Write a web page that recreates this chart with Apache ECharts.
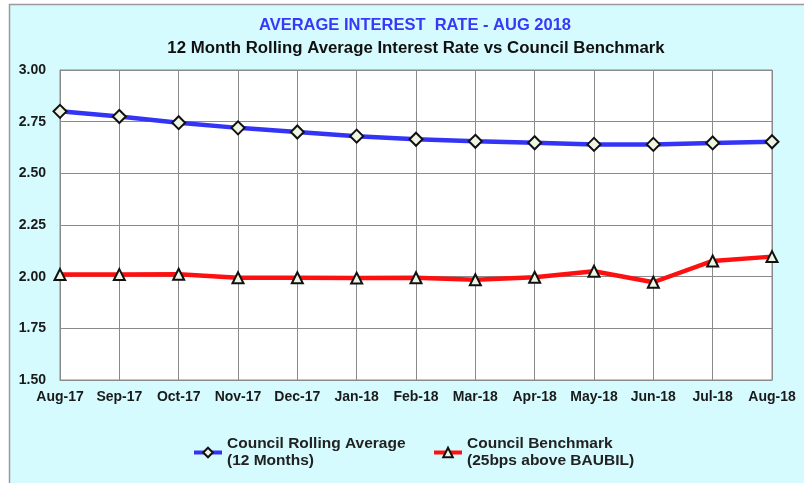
<!DOCTYPE html>
<html>
<head>
<meta charset="utf-8">
<script src="https://cdn.jsdelivr.net/npm/echarts@6/dist/echarts.min.js"></script>
<style>html,body{margin:0;padding:0;background:#fff}#c{width:804px;height:483px}</style>
</head>
<body>
<div id="c"></div>
<script>
var categories = ['Aug-17','Sep-17','Oct-17','Nov-17','Dec-17','Jan-18','Feb-18','Mar-18','Apr-18','May-18','Jun-18','Jul-18','Aug-18'];
var rollingAverage = [2.80, 2.775, 2.745, 2.72, 2.70, 2.68, 2.665, 2.655, 2.648, 2.64, 2.64, 2.647, 2.653];
var benchmark = [2.01, 2.01, 2.012, 1.995, 1.995, 1.993, 1.995, 1.985, 1.997, 2.026, 1.973, 2.076, 2.097];
var yTicks = {min: 1.5, max: 3.0, interval: 0.25};
var titleText = 'AVERAGE INTEREST  RATE - AUG 2018';
var subtitleText = '12 Month Rolling Average Interest Rate vs Council Benchmark';
var seriesNames = ['Council Rolling Average', 'Council Benchmark'];
var seriesSubNames = ['(12 Months)', '(25bps above BAUBIL)'];

var FONT = '"Liberation Sans", Arial, sans-serif';
var chart = echarts.init(document.getElementById('c'), null, {renderer: 'canvas'});
var legendText = {
  fontFamily: FONT, fontWeight: 'bold', fontSize: 15.5, color: '#222',
  lineHeight: 17, padding: [17, 0, 0, 0]
};
chart.setOption({
  backgroundColor: '#ffffff',
  animation: false,
  graphic: [{
    type: 'rect', z: -10, silent: true,
    shape: {x: 9.5, y: 4.5, width: 820, height: 500},
    style: {fill: '#d5fbfe', stroke: '#9a9a9a', lineWidth: 1.5}
  }],
  title: [{
    text: titleText, left: 410, textAlign: 'center', top: 12,
    textStyle: {fontFamily: FONT, fontWeight: 'bold', fontSize: 16.5, color: '#3838f8'}
  }, {
    text: subtitleText, left: 411, textAlign: 'center', top: 35,
    textStyle: {fontFamily: FONT, fontWeight: 'bold', fontSize: 16.8, color: '#111'}
  }],
  grid: {
    left: 60, right: 32, top: 70, bottom: 103,
    show: true, backgroundColor: '#ffffff', borderColor: '#8a8a8a', borderWidth: 1
  },
  legend: [{
    data: [seriesNames[0]], left: 192, top: 427, padding: 0,
    itemWidth: 28, itemHeight: 12, itemGap: 4,
    lineStyle: {width: 4},
    formatter: function (n) { return n + '\n' + seriesSubNames[0]; },
    textStyle: legendText
  }, {
    data: [seriesNames[1]], left: 432, top: 427, padding: 0,
    itemWidth: 28, itemHeight: 12, itemGap: 4,
    lineStyle: {width: 4},
    formatter: function (n) { return n + '\n' + seriesSubNames[1]; },
    textStyle: legendText
  }],
  xAxis: {
    type: 'category', data: categories, boundaryGap: false,
    axisLine: {lineStyle: {color: '#8a8a8a'}},
    axisTick: {show: false},
    axisLabel: {fontFamily: FONT, fontWeight: 'bold', fontSize: 14, color: '#1a1a1a', margin: 10, interval: 0},
    splitLine: {show: true, lineStyle: {color: '#8a8a8a', width: 1}}
  },
  yAxis: {
    type: 'value', min: yTicks.min, max: yTicks.max, interval: yTicks.interval,
    axisLine: {show: true, lineStyle: {color: '#8a8a8a'}},
    axisTick: {show: false},
    axisLabel: {fontFamily: FONT, fontWeight: 'bold', fontSize: 14, color: '#1a1a1a', margin: 14,
      formatter: function (v) { return v.toFixed(2); }},
    splitLine: {show: true, lineStyle: {color: '#8a8a8a', width: 1}}
  },
  series: [{
    name: seriesNames[0], type: 'line', data: rollingAverage,
    symbol: 'diamond', symbolSize: 13,
    lineStyle: {color: '#3434f6', width: 4.5},
    itemStyle: {color: '#eef5e2', borderColor: '#111', borderWidth: 2},
    color: '#3434f6', z: 3
  }, {
    name: seriesNames[1], type: 'line', data: benchmark,
    symbol: 'triangle', symbolSize: 11,
    lineStyle: {color: '#ff1010', width: 4.5},
    itemStyle: {color: '#eef5e2', borderColor: '#111', borderWidth: 2},
    color: '#ff1010', z: 3
  }]
});
</script>
</body>
</html>
